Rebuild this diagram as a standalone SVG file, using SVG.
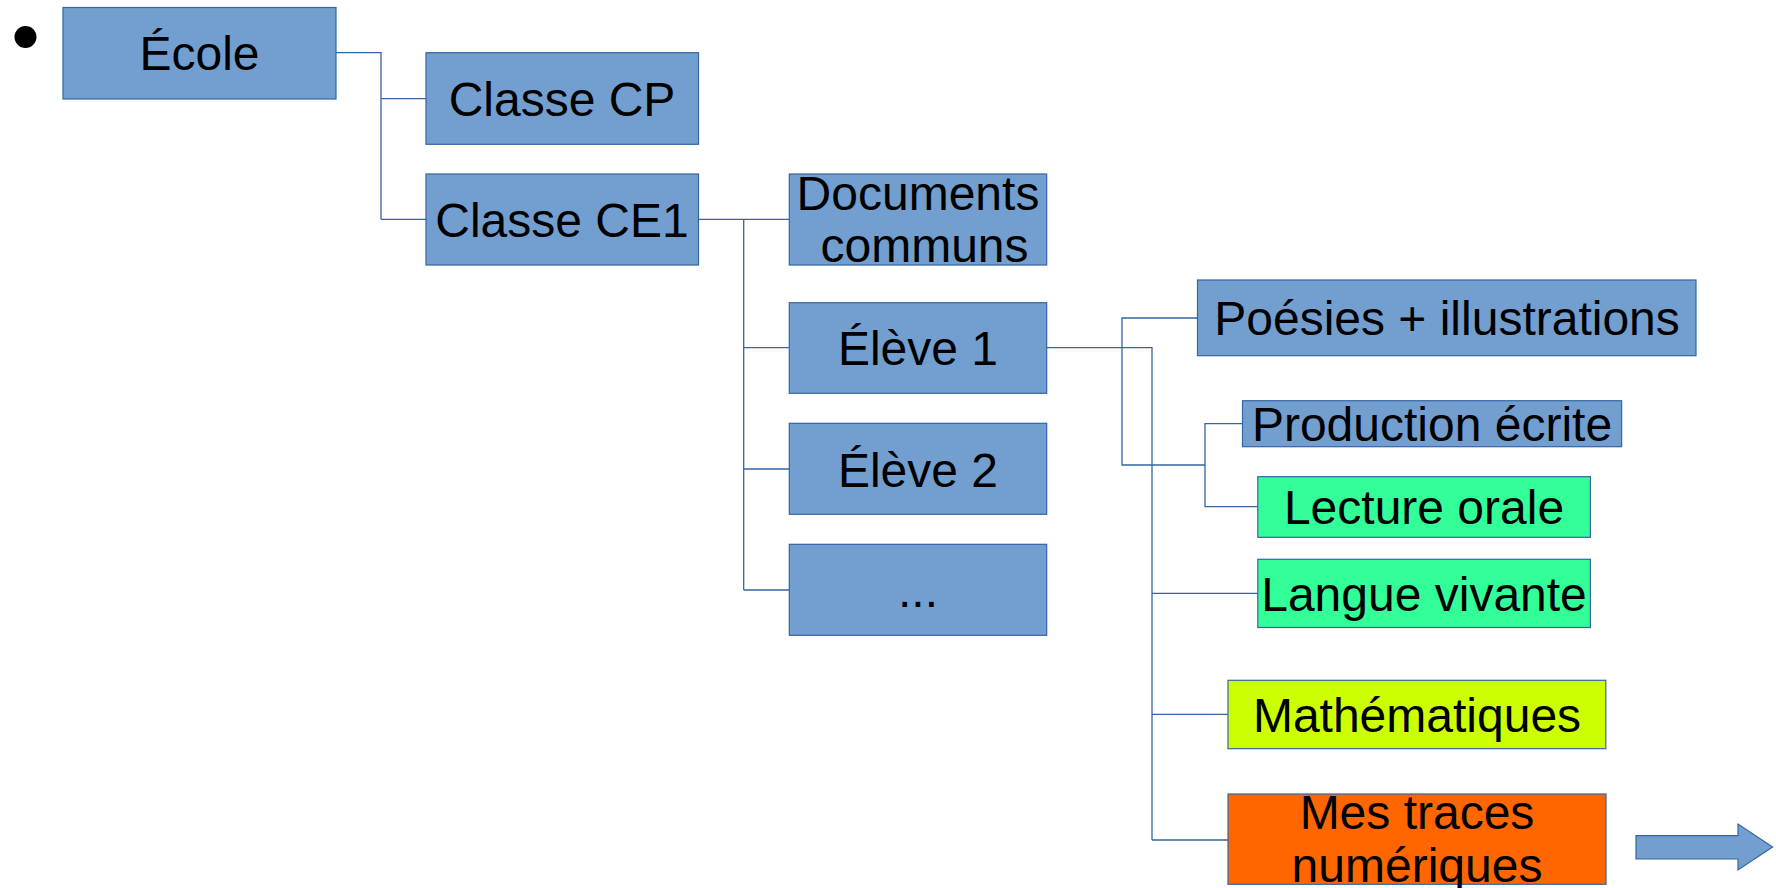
<svg xmlns="http://www.w3.org/2000/svg" width="1776" height="888" viewBox="0 0 1776 888">
<style>
.box{stroke:#3465a4;stroke-width:1.2}
.blue{fill:#729fcf}
.green{fill:#33ff99}
.yellow{fill:#ccff00}
.orange{fill:#ff6600}
.t{font-family:"Liberation Sans",Arial,sans-serif;font-size:48px;fill:#000;text-anchor:middle}
.c{fill:none;stroke:#3465a4;stroke-width:1.3}
</style>
<rect width="1776" height="888" fill="#fff"/>
<circle cx="25.5" cy="37" r="11" fill="#000"/>
<g id="connectors">
<path class="c" d="M336 52.7H381V219.3M381 98.7H426M381 219.3H426"/>
<path class="c" d="M698.5 219.3H789.3M743.7 219.3V590M743.7 347.7H789.3M743.7 469H789.3M743.7 590H789.3"/>
<path class="c" d="M1046.5 347.7H1152V840M1152 593.3H1257.8M1152 714.3H1228M1152 840H1228"/>
<path class="c" d="M1197.5 318H1122V465H1205M1242.5 423.7H1205V506.7H1257.8"/>
</g>
<g id="ecole"><rect class="box blue" x="63" y="7.5" width="273" height="91.5"/><text class="t" x="199.5" y="69.5">École</text></g>
<g id="classe-cp"><rect class="box blue" x="426" y="52.7" width="272.5" height="91.6"/><text class="t" x="562" y="115.7">Classe CP</text></g>
<g id="classe-ce1"><rect class="box blue" x="426" y="174" width="272.5" height="91"/><text class="t" x="562" y="236.5">Classe CE1</text></g>
<g id="documents"><rect class="box blue" x="789.3" y="174" width="257.4" height="91"/><text class="t" x="918" y="210">Documents</text><text class="t" x="924.5" y="261.7">communs</text></g>
<g id="eleve1"><rect class="box blue" x="789.3" y="302.7" width="257.4" height="90.6"/><text class="t" x="918" y="365">Élève 1</text></g>
<g id="eleve2"><rect class="box blue" x="789.3" y="423.3" width="257.4" height="91"/><text class="t" x="918" y="486.5">Élève 2</text></g>
<g id="etc"><rect class="box blue" x="789.3" y="544.3" width="257.4" height="91"/><text class="t" x="918" y="607.3">...</text></g>
<g id="poesies"><rect class="box blue" x="1197.5" y="280" width="498.5" height="75.7"/><text class="t" x="1447" y="335">Poésies + illustrations</text></g>
<g id="production"><rect class="box blue" x="1242.5" y="400.7" width="379.1" height="46"/><text class="t" x="1432" y="440.7">Production écrite</text></g>
<g id="lecture"><rect class="box green" x="1257.8" y="476.7" width="332.6" height="60.6"/><text class="t" x="1424" y="524">Lecture orale</text></g>
<g id="langue"><rect class="box green" x="1257.8" y="559.3" width="332.6" height="68.2"/><text class="t" x="1424" y="610.5">Langue vivante</text></g>
<g id="maths"><rect class="box yellow" x="1228" y="680.3" width="377.8" height="68.4"/><text class="t" x="1417" y="731.5">Mathématiques</text></g>
<g id="traces"><rect class="box orange" x="1228" y="794" width="378" height="90.3"/><text class="t" x="1417" y="829">Mes traces</text><text class="t" x="1417" y="881.7">numériques</text></g>
<g id="arrow"><path class="box blue" d="M1636 835.7H1738V824L1772.6 847L1738 870V859H1636Z"/></g>
</svg>
